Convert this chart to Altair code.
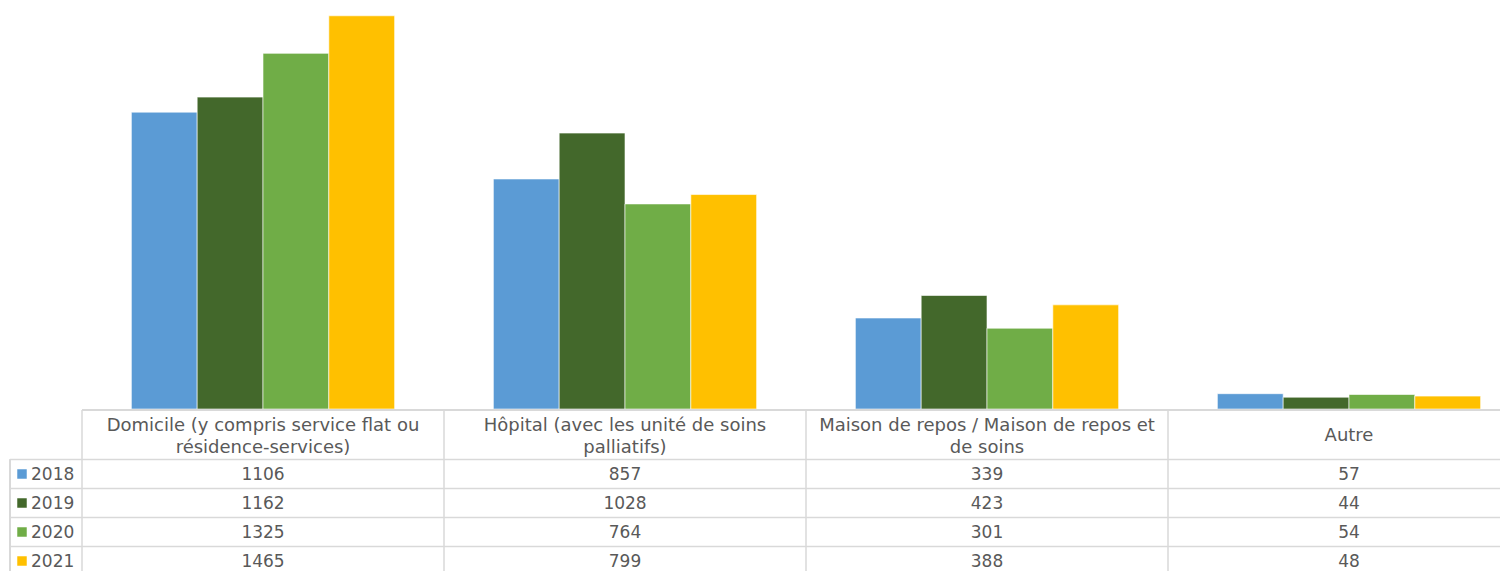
import altair as alt
import pandas as pd

categories = [
    "Domicile (y compris service flat ou résidence-services)",
    "Hôpital (avec les unité de soins palliatifs)",
    "Maison de repos / Maison de repos et de soins",
    "Autre",
]
header_lines = [
    ["Domicile (y compris service flat ou", "résidence-services)"],
    ["Hôpital (avec les unité de soins", "palliatifs)"],
    ["Maison de repos / Maison de repos et", "de soins"],
    ["Autre"],
]
years = ["2018", "2019", "2020", "2021"]
values_2018 = [1106, 857, 339, 57]
values_2019 = [1162, 1028, 423, 44]
values_2020 = [1325, 764, 301, 54]
values_2021 = [1465, 799, 388, 48]
colors = ["#5B9BD5", "#43682B", "#70AD47", "#FFC000"]

series = [values_2018, values_2019, values_2020, values_2021]
rows = []
for y, vals in zip(years, series):
    for c, v in zip(categories, vals):
        rows.append({"cat": c, "year": y, "value": v})
df = pd.DataFrame(rows)
hdr = pd.DataFrame({"cat": categories, "header": header_lines,
                    "nlines": [len(h) for h in header_lines]})
yr = pd.DataFrame({"year": years})

W = 1418
H = 563
GRID = "#d9d9d9"
TXT = "#595959"
FONT = "DejaVu Sans"
FS = 17

xscale = alt.Scale(domain=categories, range=[0, 1448], paddingInner=0, paddingOuter=0)
rowscale = alt.Scale(domain=years, range=[451.5, 567.5], paddingInner=0, paddingOuter=0)
cscale = alt.Scale(domain=years, range=colors)

bars = alt.Chart(df).mark_bar(stroke="#ffffff", strokeWidth=0.6).encode(
    x=alt.X("cat:N", scale=xscale, axis=None, sort=categories),
    xOffset=alt.XOffset("year:N", scale=alt.Scale(paddingInner=0, paddingOuter=0.75), sort=years),
    y=alt.Y("value:Q", scale=alt.Scale(domain=[0, 1494], range=[401, 0]), axis=None),
    color=alt.Color("year:N", scale=cscale, legend=None),
)

# table grid
top_line = alt.Chart(hdr).mark_rule(color=GRID, strokeWidth=1.5).encode(
    x=alt.value(0), x2=alt.value(W), y=alt.value(402)
)
row_lines = alt.Chart(yr).mark_rule(color=GRID, strokeWidth=1.5).encode(
    y=alt.Y("year:N", scale=rowscale, axis=None, bandPosition=0),
    x=alt.value(-72), x2=alt.value(W),
)
col_lines = alt.Chart(hdr).mark_rule(color=GRID, strokeWidth=1.5).encode(
    x=alt.X("cat:N", scale=xscale, axis=None, bandPosition=0, sort=categories),
    y=alt.value(402), y2=alt.value(H),
)
left_line = alt.Chart(yr).mark_rule(color=GRID, strokeWidth=1.5).encode(
    x=alt.value(-72), y=alt.value(451.5), y2=alt.value(H),
)

headers2 = alt.Chart(hdr).transform_filter("datum.nlines == 2").mark_text(
    font=FONT, fontSize=18, color=TXT, align="center", baseline="middle", lineHeight=22
).encode(
    x=alt.X("cat:N", scale=xscale, axis=None, sort=categories),
    y=alt.value(417.5),
    text="header",
)
headers1 = alt.Chart(hdr).transform_filter("datum.nlines == 1").mark_text(
    font=FONT, fontSize=18, color=TXT, align="center", baseline="middle"
).encode(
    x=alt.X("cat:N", scale=xscale, axis=None, sort=categories),
    y=alt.value(428),
    text="header",
)

cells = alt.Chart(df).mark_text(
    font=FONT, fontSize=FS, color=TXT, align="center", baseline="middle", dy=1
).encode(
    x=alt.X("cat:N", scale=xscale, axis=None, sort=categories),
    y=alt.Y("year:N", scale=rowscale, axis=None, bandPosition=0.5),
    text=alt.Text("value:Q", format="d"),
)

squares = alt.Chart(yr).mark_square(size=90, opacity=1).encode(
    x=alt.value(-60),
    y=alt.Y("year:N", scale=rowscale, axis=None, bandPosition=0.5),
    color=alt.Color("year:N", scale=cscale, legend=None),
)
year_labels = alt.Chart(yr).mark_text(
    font=FONT, fontSize=FS, color=TXT, align="left", baseline="middle", dy=1
).encode(
    x=alt.value(-51),
    y=alt.Y("year:N", scale=rowscale, axis=None, bandPosition=0.5),
    text="year:N",
)

chart = alt.layer(
    bars, top_line, row_lines, col_lines, left_line, headers2, headers1, cells, squares, year_labels
).resolve_scale(y="independent").properties(
    width=W, height=H,
    autosize=alt.AutoSizeParams(type="none"),
    padding={"left": 74, "top": 0, "right": 0, "bottom": 0},
).configure_view(stroke=None)

chart.save("out.html", embed_options={"renderer": "svg", "actions": False})
